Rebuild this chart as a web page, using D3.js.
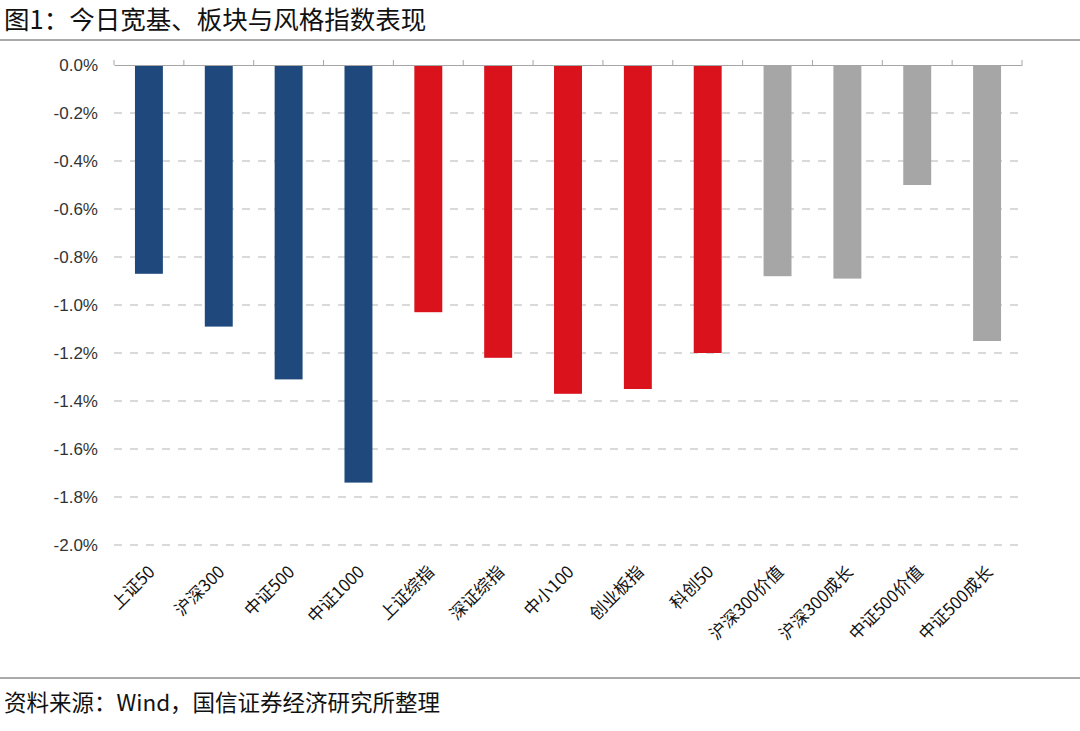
<!DOCTYPE html>
<html><head><meta charset="utf-8">
<script src="https://cdn.jsdelivr.net/npm/d3@7"></script>
<style>
html,body{margin:0;padding:0;background:#fff;}
svg{display:block;font-family:"Noto Sans CJK SC","Noto Sans",sans-serif;}
</style></head>
<body><svg id="c" width="1080" height="731"></svg>
<script>
const categories = ["上证50","沪深300","中证500","中证1000","上证综指","深证综指","中小100","创业板指","科创50","沪深300价值","沪深300成长","中证500价值","中证500成长"];
const values = [-0.87,-1.09,-1.31,-1.74,-1.03,-1.22,-1.37,-1.35,-1.20,-0.88,-0.89,-0.50,-1.15];
const groups = ["broad","broad","broad","broad","sector","sector","sector","sector","sector","style","style","style","style"];
const yTicks = [0,-0.2,-0.4,-0.6,-0.8,-1.0,-1.2,-1.4,-1.6,-1.8,-2.0];
const colors = {broad:"#1F497D", sector:"#D9121C", style:"#A6A6A6"};

(function(){
const svg = d3.select("#c");
const pL = 114, pR = 1022, pT = 65, pB = 545;

svg.append("text").attr("x",4).attr("y",29).attr("font-size",25.5).attr("fill","#111")
  .text("图1：今日宽基、板块与风格指数表现");
svg.append("line").attr("x1",0).attr("x2",1080).attr("y1",40).attr("y2",40).attr("stroke","#555").attr("stroke-width",1);
svg.append("line").attr("x1",0).attr("x2",1080).attr("y1",678).attr("y2",678).attr("stroke","#555").attr("stroke-width",1);
svg.append("text").attr("x",4).attr("y",711).attr("font-size",22.5).attr("fill","#111")
  .text("资料来源：Wind，国信证券经济研究所整理");

const xb = d3.scaleBand().domain(categories).range([pL,pR]);
const y = d3.scaleLinear().domain([0,-2.0]).range([pT,pB]);

// grid
svg.append("g").selectAll("line").data(yTicks.filter(d=>d!==0)).join("line")
  .attr("x1",pL).attr("x2",pR).attr("y1",d=>y(d)).attr("y2",d=>y(d))
  .attr("stroke","#D9D9D9").attr("stroke-width",2).attr("stroke-dasharray","8,8");

// y labels
svg.append("g").selectAll("text").data(yTicks).join("text")
  .attr("x",98).attr("y",d=>y(d)).attr("dy","0.35em").attr("text-anchor","end")
  .attr("font-size",17).attr("fill","#333").attr("font-family","Arial, 'Liberation Sans', sans-serif")
  .text(d=>d.toFixed(1)+"%");

// bars
svg.append("g").selectAll("rect").data(categories).join("rect")
  .attr("x",(d)=>xb(d)+xb.bandwidth()*0.3)
  .attr("width",xb.bandwidth()*0.4)
  .attr("y",y(0))
  .attr("height",(d,i)=>y(values[i])-y(0))
  .attr("fill",(d,i)=>colors[groups[i]]);

// zero axis with ticks
const ax = svg.append("g").attr("transform",`translate(0,${y(0)})`)
  .call(d3.axisTop(xb).tickSize(0).tickFormat(""));
ax.select(".domain").attr("stroke","#A6A6A6");
svg.append("g").selectAll("line").data(d3.range(categories.length+1)).join("line")
  .attr("x1",i=>pL+i*xb.step()).attr("x2",i=>pL+i*xb.step())
  .attr("y1",y(0)-5).attr("y2",y(0)).attr("stroke","#A6A6A6");

// x labels
svg.append("g").selectAll("text").data(categories).join("text")
  .attr("transform",d=>`translate(${xb(d)+xb.bandwidth()/2+7},${pB+28}) rotate(-45)`)
  .attr("text-anchor","end").attr("font-size",17).attr("fill","#111")
  .text(d=>d);
})();
</script></body></html>
